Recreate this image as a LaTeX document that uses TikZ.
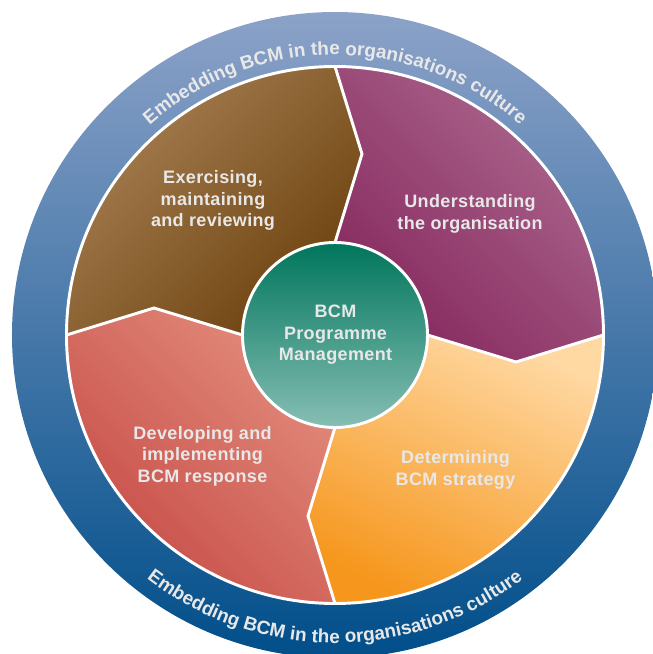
\documentclass[tikz,border=0pt]{standalone}
\usepackage{fontspec}
\setmainfont{Liberation Sans}[LetterSpace=2]
\newfontfamily\ringfam{Liberation Sans}
\usetikzlibrary{decorations.text}
\definecolor{txt}{RGB}{232,232,232}
\definecolor{ringtop}{RGB}{140,162,200}
\definecolor{ringbot}{RGB}{0,78,138}
\definecolor{brownA}{RGB}{168,128,84}
\definecolor{brownB}{RGB}{108,66,14}
\definecolor{purpA}{RGB}{172,104,142}
\definecolor{purpB}{RGB}{134,40,94}
\definecolor{orA}{RGB}{255,216,162}
\definecolor{orB}{RGB}{246,150,28}
\definecolor{redA}{RGB}{226,140,124}
\definecolor{redB}{RGB}{198,74,70}
\definecolor{coreA}{RGB}{0,118,92}
\definecolor{coreM}{RGB}{0,142,122}
\definecolor{coreB}{RGB}{135,190,180}
\newcommand{\labfont}{\fontsize{13.5}{16.1}\selectfont\bfseries}
\newcommand{\ringfnt}{\ringfam\fontsize{14.2}{16}\selectfont\bfseries}
\begin{document}
\begin{tikzpicture}[x=0.75pt,y=0.75pt,
  seglabel/.style={align=center, text=txt, font=\labfont, inner sep=0pt},
  divider/.style={draw=white, line width=2.2pt, line join=miter},
  ringtext/.style={decorate, decoration={text along path, text={|\ringfnt|Embedding BCM in the organisations culture}, text align=center, text color=txt}}]
\clip (-335,-319) rectangle (318,335);
% outer ring
\shade[top color=ringtop, bottom color=ringbot] (0,0) circle[radius=323];
% divider coordinates
\coordinate (tI) at (0,92.5);  \coordinate (tK) at (27,181);   \coordinate (tO) at (0,268.5);
\coordinate (rI) at (92.5,0);  \coordinate (rK) at (181,-27);  \coordinate (rO) at (268.5,0);
\coordinate (bI) at (0,-92.5); \coordinate (bK) at (-27,-181); \coordinate (bO) at (0,-268.5);
\coordinate (lI) at (-92.5,0); \coordinate (lK) at (-181,27);  \coordinate (lO) at (-268.5,0);
% segments
\shade[top color=brownA, bottom color=brownB, shading angle=45]
  (0,0) -- (tI) -- (tK) -- (tO) arc[start angle=90, end angle=180, radius=268.5] -- (lK) -- (lI) -- cycle;
\shade[top color=purpA, bottom color=purpB, shading angle=-45]
  (0,0) -- (tI) -- (tK) -- (tO) arc[start angle=90, end angle=0, radius=268.5] -- (rK) -- (rI) -- cycle;
\shade[top color=orA, bottom color=orB, shading angle=-25]
  (0,0) -- (rI) -- (rK) -- (rO) arc[start angle=0, end angle=-90, radius=268.5] -- (bK) -- (bI) -- cycle;
\shade[top color=redA, bottom color=redB, shading angle=-45]
  (0,0) -- (bI) -- (bK) -- (bO) arc[start angle=270, end angle=180, radius=268.5] -- (lK) -- (lI) -- cycle;
% white borders
\draw[divider] (tI) -- (tK) -- (tO);
\draw[divider] (rI) -- (rK) -- (rO);
\draw[divider] (bI) -- (bK) -- (bO);
\draw[divider] (lI) -- (lK) -- (lO);
\draw[white, line width=2.2pt] (0,0) circle[radius=268.5];
% core
\shade[top color=coreA, middle color=coreM, bottom color=coreB] (0,0) circle[radius=92.5];
\draw[white, line width=2.2pt] (0,0) circle[radius=92.5];
% labels
\node[seglabel] (core) at (0.5,0) {BCM\\Programme\\Management};
\node[seglabel] (exer) at (-122,134.5) {Exercising,\\maintaining\\and reviewing};
\node[seglabel] (under) at (135,121.1) {Understanding\\the organisation};
\node[seglabel] (deter) at (120.5,-134.9) {Determining\\BCM strategy};
\node[seglabel] (devel) at (-132.5,-121) {Developing and\\implementing\\BCM response};
% ring texts
\path[ringtext] (170:280) arc[start angle=170, end angle=10, radius=280];
\path[ringtext] (190:308) arc[start angle=190, end angle=350, radius=308];
\end{tikzpicture}
\end{document}
